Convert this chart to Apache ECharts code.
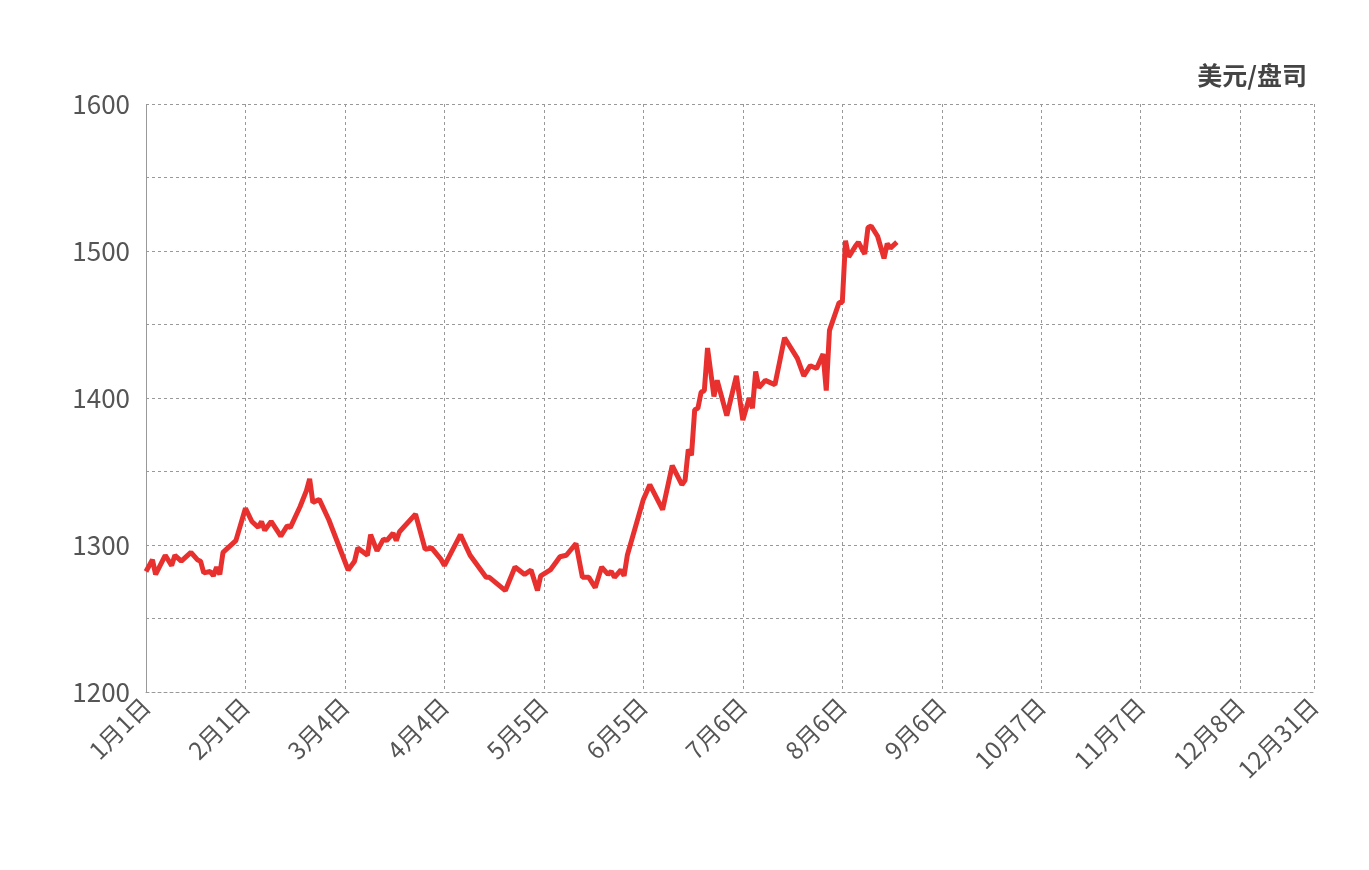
<!DOCTYPE html><html><head><meta charset="utf-8"><script src="https://cdn.jsdelivr.net/npm/echarts@6/dist/echarts.min.js"></script>
<style>html,body{margin:0;background:#fff}#c{width:1369px;height:870px}</style></head><body><div id="c"></div><script>
const unitLabel='美元/盘司';
const dayIdx=[0,2,3,6,8,9,11,14,16,17,18,20,21,22,23,24,28,31,33,35,36,37,39,42,44,45,48,50,51,52,54,57,63,65,66,69,70,72,74,75,77,78,79,84,87,89,92,93,98,101,106,107,112,115,118,120,122,123,126,128,129,131,134,136,138,140,142,144,145,146,148,149,150,155,157,161,164,167,168,169,170,171,172,173,174,175,177,178,181,184,186,188,189,190,191,193,196,199,203,205,207,209,211,212,213,216,217,218,219,221,222,224,225,226,228,230,231,232,234];
const prices=[1282,1290,1280,1293,1286,1293,1289,1295,1290,1289,1281,1282,1279,1285,1280,1295,1303,1325,1316,1312,1316,1310,1316,1306,1313,1312,1326,1337,1345,1329,1331,1317,1283,1289,1298,1293,1307,1296,1304,1303,1308,1303,1309,1321,1297,1298,1290,1286,1307,1293,1278,1278,1269,1285,1280,1283,1269,1279,1283,1289,1292,1293,1301,1278,1278,1271,1285,1280,1282,1278,1283,1279,1293,1331,1341,1324,1354,1341,1344,1365,1361,1392,1393,1404,1405,1434,1401,1412,1388,1415,1385,1400,1393,1418,1407,1412,1409,1441,1427,1415,1422,1420,1430,1405,1446,1465,1465,1507,1496,1503,1506,1498,1516,1517,1510,1495,1505,1502,1506];
const dates=[];{const d=new Date(2019,0,1);for(let i=0;i<365;i++){dates.push((d.getMonth()+1)+'月'+d.getDate()+'日');d.setDate(d.getDate()+1);}}
const data=new Array(365).fill(null);dayIdx.forEach((d,i)=>data[d]=prices[i]);
const show=(i)=>i%31===0||i===364;
const dash={color:'#999',type:[3,3],width:1};
const ch=echarts.init(document.getElementById('c'));
ch.setOption({animation:false,
title:{text:unitLabel,right:57,top:58,textStyle:{fontSize:25,fontWeight:'bold',color:'#444',fontFamily:'Noto Sans CJK SC'}},
grid:{left:146,right:55,top:104,bottom:178,containLabel:false},
xAxis:{type:'category',data:dates,boundaryGap:false,
axisLine:{lineStyle:dash},axisTick:{show:false},
axisLabel:{interval:(i)=>show(i),rotate:45,fontSize:24,color:'#555',margin:10,fontFamily:'Noto Sans CJK SC'},
splitLine:{show:true,interval:(i)=>show(i),lineStyle:dash}},
yAxis:{type:'value',min:1200,max:1600,interval:50,
axisLine:{show:true,lineStyle:dash},axisTick:{show:false},
axisLabel:{fontSize:26,color:'#555',margin:16,formatter:(v)=>v%100===0?v:'',fontFamily:'Noto Sans CJK SC'},
splitLine:{lineStyle:dash}},
series:[{type:'line',data:data,connectNulls:true,showSymbol:false,lineStyle:{color:'#e8312f',width:5},itemStyle:{color:'#e8312f'}}]});
</script></body></html>
